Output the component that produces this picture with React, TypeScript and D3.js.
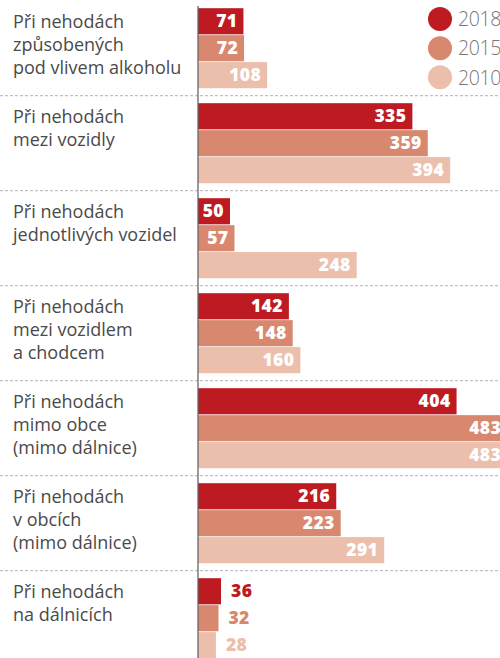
import React from "react";
import * as d3 from "d3";

const categories: string[][] = [
  ["Při nehodách", "způsobených", "pod vlivem alkoholu"],
  ["Při nehodách", "mezi vozidly"],
  ["Při nehodách", "jednotlivých vozidel"],
  ["Při nehodách", "mezi vozidlem", "a chodcem"],
  ["Při nehodách", "mimo obce", "(mimo dálnice)"],
  ["Při nehodách", "v obcích", "(mimo dálnice)"],
  ["Při nehodách", "na dálnicích"],
];
const years = ["2018", "2015", "2010"];
const values2018 = [71, 335, 50, 142, 404, 216, 36];
const values2015 = [72, 359, 57, 148, 483, 223, 32];
const values2010 = [108, 394, 248, 160, 483, 291, 28];
const colors = ["#bd1a22", "#d98870", "#ecbfac"];

const W = 500;
const H = 658;

export default function App() {
  const series = [values2018, values2015, values2010];
  const catIdx = categories.map((_, i) => String(i));
  const y0 = d3.scaleBand<string>().domain(catIdx).range([0.7, 0.7 + 95 * categories.length]);
  const y1 = d3.scaleBand<string>().domain(years).range([7.5, 87.5]).paddingInner(0.03);
  const x = d3.scaleLinear().domain([0, 500]).range([198, 198 + 0.64 * 500]);
  const legendY = d3.scaleLinear().domain([0, 2]).range([19, 77.3]);

  return (
    <svg
      width={W}
      height={H}
      style={{ position: "absolute", left: 0, top: 0, background: "#fff" }}
      fontFamily="'Open Sans', sans-serif"
    >
      {catIdx.map((c, i) => (
        <g key={c} transform={`translate(0,${y0(c)})`}>
          {i > 0 && (
            <line x1={0} x2={W} y1={0} y2={0} stroke="#b3b3b3" strokeWidth={1} strokeDasharray="3,2" />
          )}
          <text fill="#4a4a4a" fontSize={18}>
            {categories[i].map((line, j) => (
              <tspan key={j} x={13} y={27.6 + j * 23}>
                {line}
              </tspan>
            ))}
          </text>
          {years.map((yr, s) => {
            const v = series[s][i];
            const by = y1(yr)!;
            const bh = y1.bandwidth();
            const xe = x(v);
            const inside = v >= 45;
            return (
              <g key={yr}>
                <rect x={x(0)} y={by} width={xe - x(0)} height={bh} fill={colors[s]} />
                <text
                  x={inside ? xe - 6 : xe + 10}
                  y={by + bh / 2 + 6}
                  textAnchor={inside ? "end" : "start"}
                  fill={inside ? "#fff" : colors[s]}
                  fontWeight={800}
                  fontSize={17.5}
                  letterSpacing={0.4}
                >
                  {v}
                </text>
              </g>
            );
          })}
        </g>
      ))}
      <line x1={x(0)} x2={x(0)} y1={6} y2={H} stroke="#666" strokeWidth={1.3} />
      {years.map((yr, s) => (
        <g key={yr}>
          <circle cx={440} cy={legendY(s)} r={12} fill={colors[s]} />
          <text x={458} y={legendY(s) + 7.3} fill="#777" fontSize={19.5} fontWeight={300} letterSpacing={-0.4}>
            {yr}
          </text>
        </g>
      ))}
    </svg>
  );
}
